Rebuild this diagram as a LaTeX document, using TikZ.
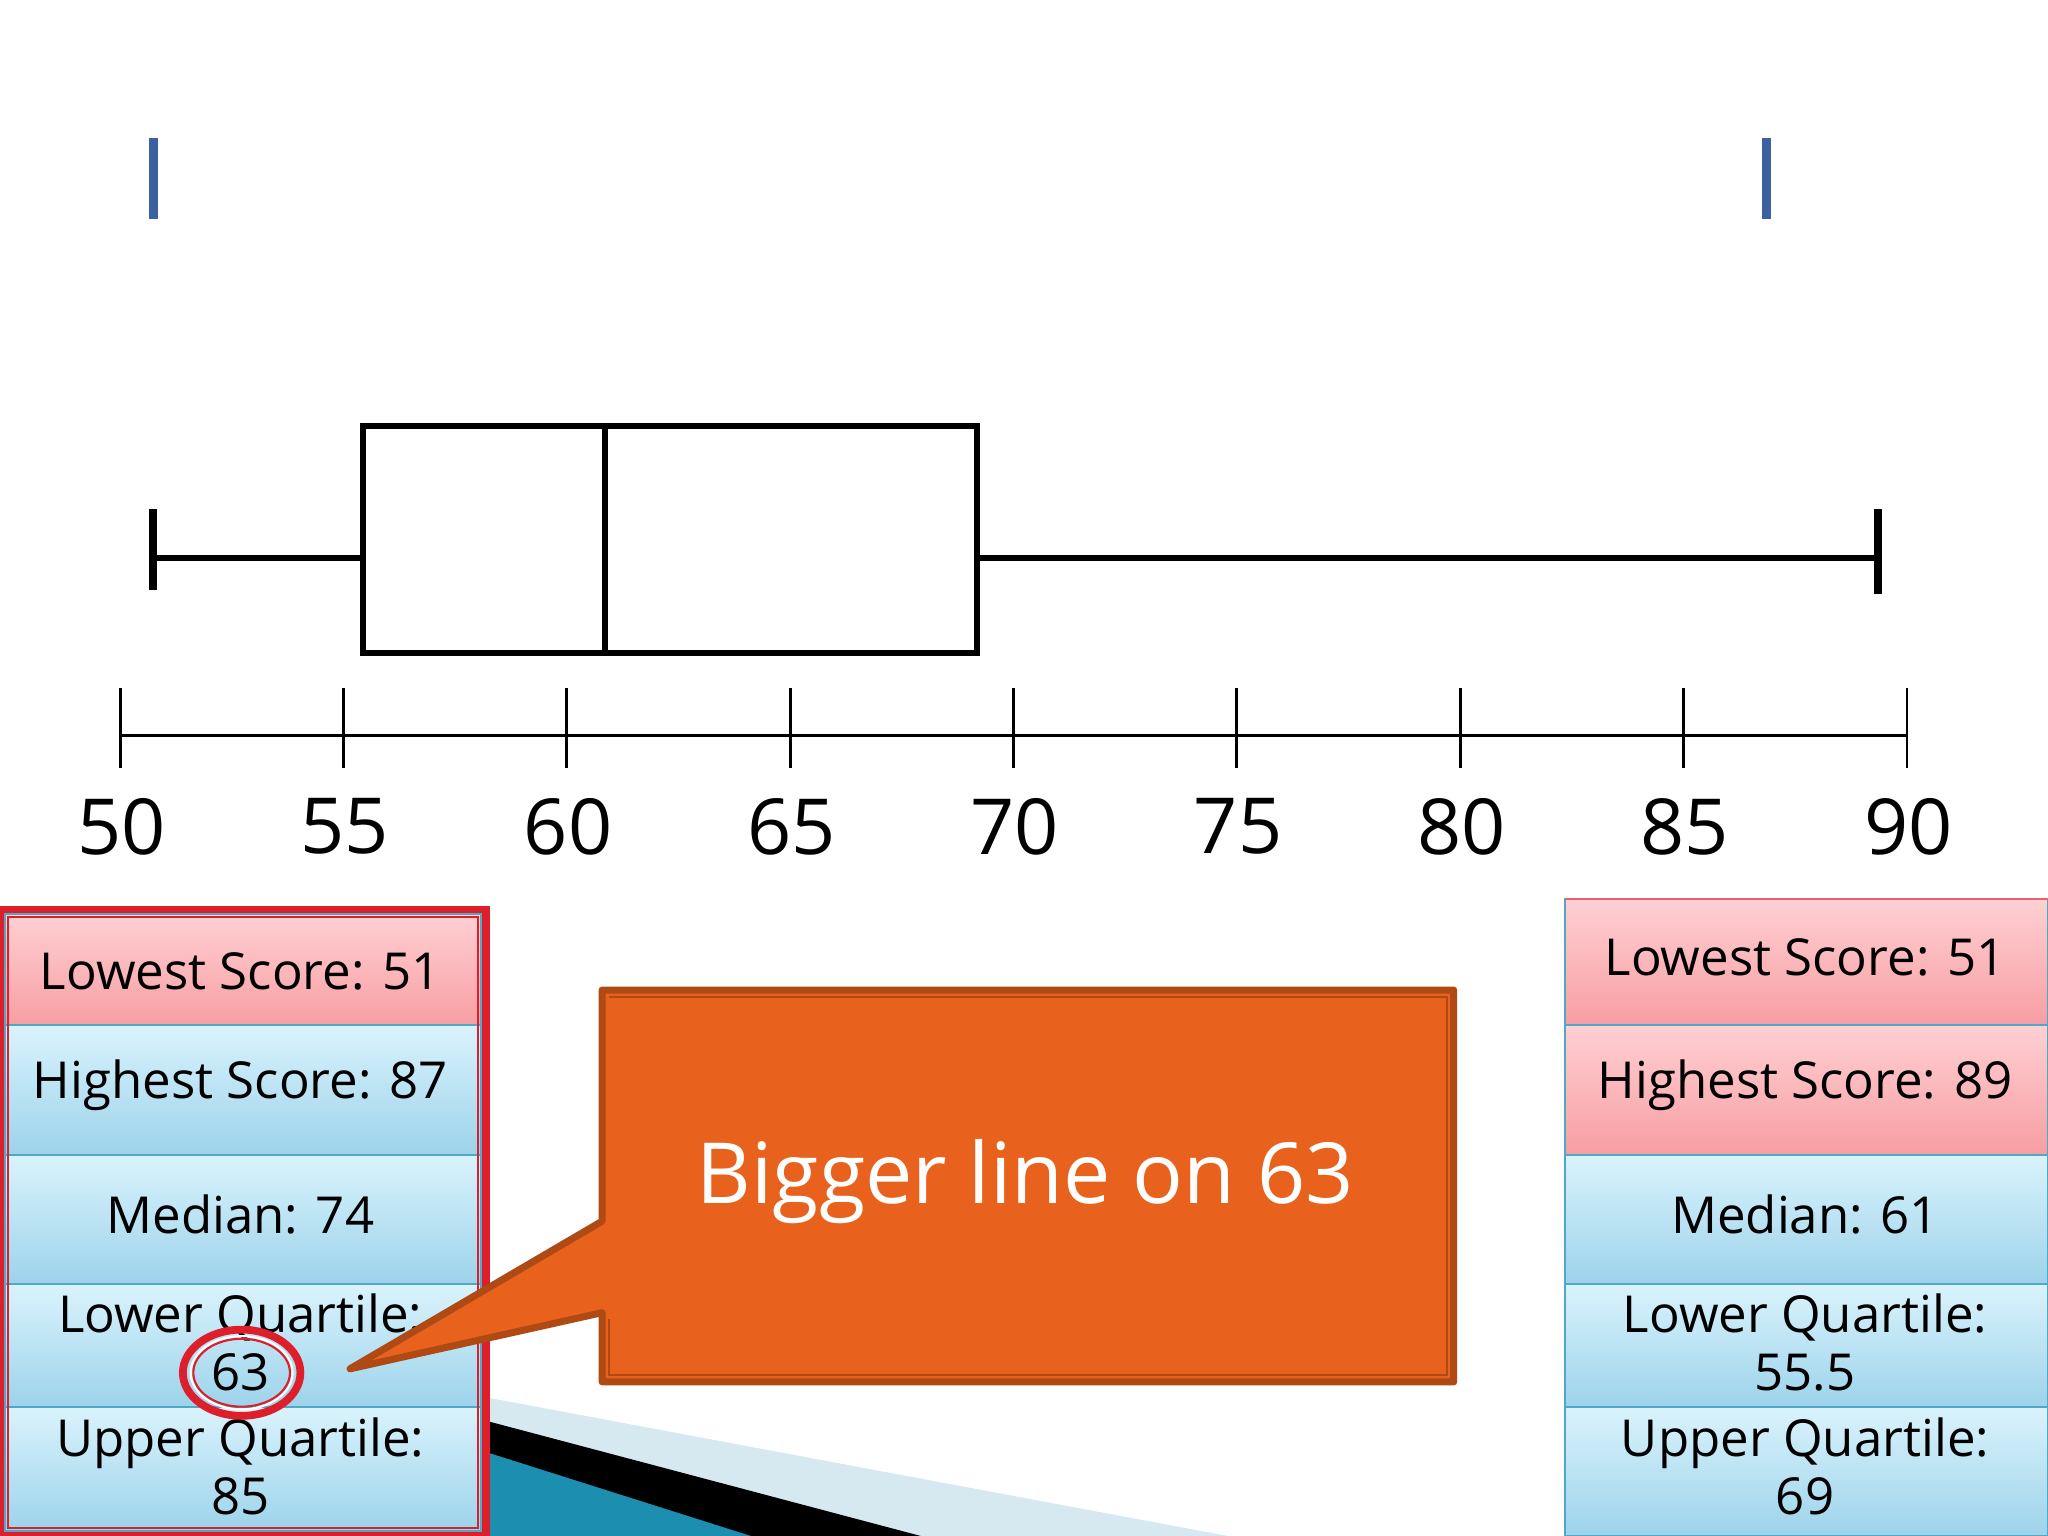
\documentclass[tikz,border=0pt]{standalone}
\usepackage{fontspec}
\setmainfont{Open Sans}
\begin{document}
\begin{tikzpicture}[x=0.01306cm,y=-0.01306cm,
  bp/.style={line width=1.8pt,black},
  pinkrow/.style={top color=pinkT,bottom color=pinkB,draw=tealL,line width=0.6pt},
  bluerow/.style={top color=blueT,bottom color=blueB,draw=tealL,line width=0.6pt},
  cell/.style={font=\fontsize{14.5}{16.5}\selectfont,align=center,text=black},
  ax/.style={font=\fontsize{22}{24}\selectfont}]
\definecolor{pinkT}{HTML}{FFD0D3}\definecolor{pinkB}{HTML}{F79EA3}
\definecolor{blueT}{HTML}{DAF3FC}\definecolor{blueB}{HTML}{9DD3EB}
\definecolor{tealL}{HTML}{4FA8C4}\definecolor{redB}{HTML}{DC1F2B}
\definecolor{orangeF}{HTML}{E8621E}\definecolor{orangeD}{HTML}{B04A14}
\definecolor{tickB}{HTML}{3A62A0}\definecolor{lband}{HTML}{D6E8F0}
\definecolor{teal}{HTML}{1C8EB0}
\useasboundingbox (0,0) rectangle (1568,1176);
% bottom decoration
\fill[lband] (373,1070) -- (940,1176) -- (373,1176) -- cycle;
\fill[black] (373,1088) -- (705,1176) -- (373,1176) -- cycle;
\fill[teal] (373,1112) -- (575,1176) -- (373,1176) -- cycle;
% blue ticks
\fill[tickB] (114,106) rectangle (121,168);
\fill[tickB] (1349,106) rectangle (1356,168);
% box plot
\coordinate (wl) at (117,427); \coordinate (wr) at (1438,427);
\draw[bp] (wl) -- (278,427); \draw[bp] (748,427) -- (wr);
\draw[line width=2.4pt] (117,390) -- (117,452);
\draw[line width=2.4pt] (1438,390) -- (1438,455);
\draw[bp] (278,326) rectangle (748,500);
\draw[bp] (463,326) -- (463,500);
% axis
\draw[line width=0.8pt] (92,563) -- (1460,563);
\foreach \v [count=\i from 0] in {50,55,...,90}{
  \draw[line width=0.8pt] (92+171*\i,527) -- (92+171*\i,588);
  \node[ax] (l\v) at (93+171*\i,633) {\v};
}
% left table
\draw[redB,line width=2.5pt] (1,697) rectangle (372,1176);
\path[pinkrow] (4,700) rectangle (368,785);
\path[bluerow] (4,785) rectangle (368,884);
\path[bluerow] (4,884) rectangle (368,983);
\path[bluerow] (4,983) rectangle (368,1077);
\path[bluerow] (4,1077) rectangle (368,1172);
\draw[redB,line width=0.6pt] (6,702) rectangle (366,1170);
\node[cell] (a1) at (184,744) {Lowest Score: 51};
\node[cell] (a2) at (184,831) {Highest Score: 87};
\node[cell] (a3) at (184,930) {Median: 74};
\node[cell] (a4) at (184,1028) {Lower Quartile:\\63};
\node[cell] (a5) at (184,1123) {Upper Quartile:\\85};
% right table
\path[pinkrow] (1198,688) rectangle (1568,785);
\path[pinkrow] (1198,785) rectangle (1568,884);
\path[bluerow] (1198,884) rectangle (1568,983);
\path[bluerow] (1198,983) rectangle (1568,1077);
\path[bluerow] (1198,1077) rectangle (1568,1176);
\draw[redB!70,line width=0.6pt] (1198,688) -- (1568,688);
\node[cell] (b1) at (1382,733) {Lowest Score: 51};
\node[cell] (b2) at (1382,831) {Highest Score: 89};
\node[cell] (b3) at (1382,930) {Median: 61};
\node[cell] (b4) at (1382,1028) {Lower Quartile:\\55.5};
\node[cell] (b5) at (1382,1123) {Upper Quartile:\\69};
% circle
\draw[redB,line width=2.2pt] (185,1051) ellipse (45 and 33);
\draw[white,line width=0.6pt] (185,1051) ellipse (39 and 28);
\draw[redB,line width=0.6pt] (185,1051) ellipse (37 and 26);
% callout
\draw[orangeD,fill=orangeF,line width=2pt,line join=round]
  (461,758) -- (1113,758) -- (1113,1058) -- (461,1058) -- (461,1005) -- (268,1048) -- (461,935) -- cycle;
\draw[orangeD,line width=0.6pt] (466,763) -- (1108,763) -- (1108,1053) -- (466,1053) -- (466,1010);
\node[text=white,font=\fontsize{24}{30}\selectfont] (c) at (785,905) {Bigger line on 63};
\end{tikzpicture}
\end{document}
